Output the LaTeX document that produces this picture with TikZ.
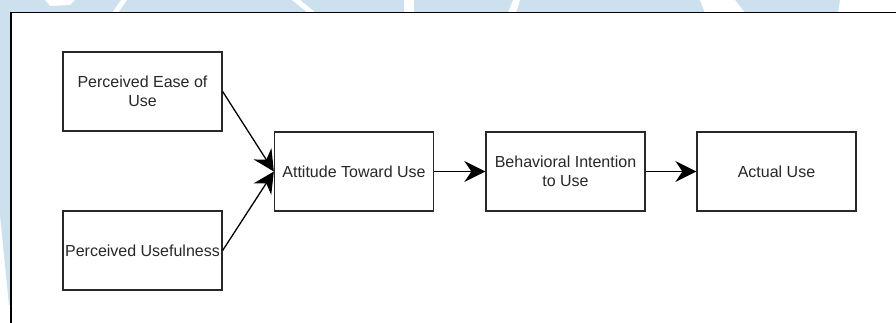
\documentclass[tikz,border=0pt]{standalone}
\usepackage{fontspec}
\setmainfont{Liberation Sans}
\usetikzlibrary{arrows.meta}
\definecolor{wm}{RGB}{204,224,238}
\definecolor{ink}{RGB}{40,40,40}
\begin{document}
\begin{tikzpicture}[x=1pt,y=-1pt,
  box/.style={draw=ink, line width=1.3pt, fill=white, minimum width=159pt, minimum height=79pt,
    inner sep=0pt, align=center, text=ink, font=\fontsize{16}{18.5}\selectfont},
  conn/.style={draw=black, line width=1.3pt, -{Stealth[length=21pt,width=21pt,inset=7pt]}}]
\useasboundingbox (0,0) rectangle (896,323);
% watermark outside the frame
\fill[wm] (0,0) -- (896,0) -- (896,13) -- (0,13) -- cycle;
\fill[wm] (0,0) -- (11,0) -- (11,305) -- (9,305) -- (0,215) -- cycle;
% white gaps in the watermark strip
\fill[white] (45,0) -- (75,0) -- (70,5) -- (50,6) -- cycle;
\fill[white] (112,13) -- (121,0) -- (127,0) -- (118,13) -- cycle;
\fill[white] (292,0) -- (300,0) -- (316,13) -- (308,13) -- cycle;
\fill[white] (404,0) -- (414,0) -- (414,13) -- (404,13) -- cycle;
\fill[white] (508,13) -- (513,0) -- (520,0) -- (516,13) -- cycle;
\fill[white] (700,0) -- (735,0) -- (745,13) -- (705,13) -- cycle;
\fill[white] (840,0) -- (896,0) -- (896,13) -- (838,13) -- cycle;
% frame
\draw[draw=black, line width=1.3pt, fill=white] (11,12.7) rectangle (905,335);
% nodes
\node[box] (peu) at (142.5,91.5) {Perceived Ease of\\Use};
\node[box] (pu)  at (142.5,250.5) {Perceived Usefulness};
\node[box] (atu) at (354,171.5) {Attitude Toward Use};
\node[box] (biu) at (565.5,171.5) {Behavioral Intention\\to Use};
\node[box] (au)  at (776.5,171.5) {Actual Use};
% connectors
\draw[conn] (peu.east) -- (atu.west);
\draw[conn] (pu.east) -- (atu.west);
\draw[conn] (atu.east) -- (biu.west);
\draw[conn] (biu.east) -- (au.west);
\end{tikzpicture}
\end{document}
